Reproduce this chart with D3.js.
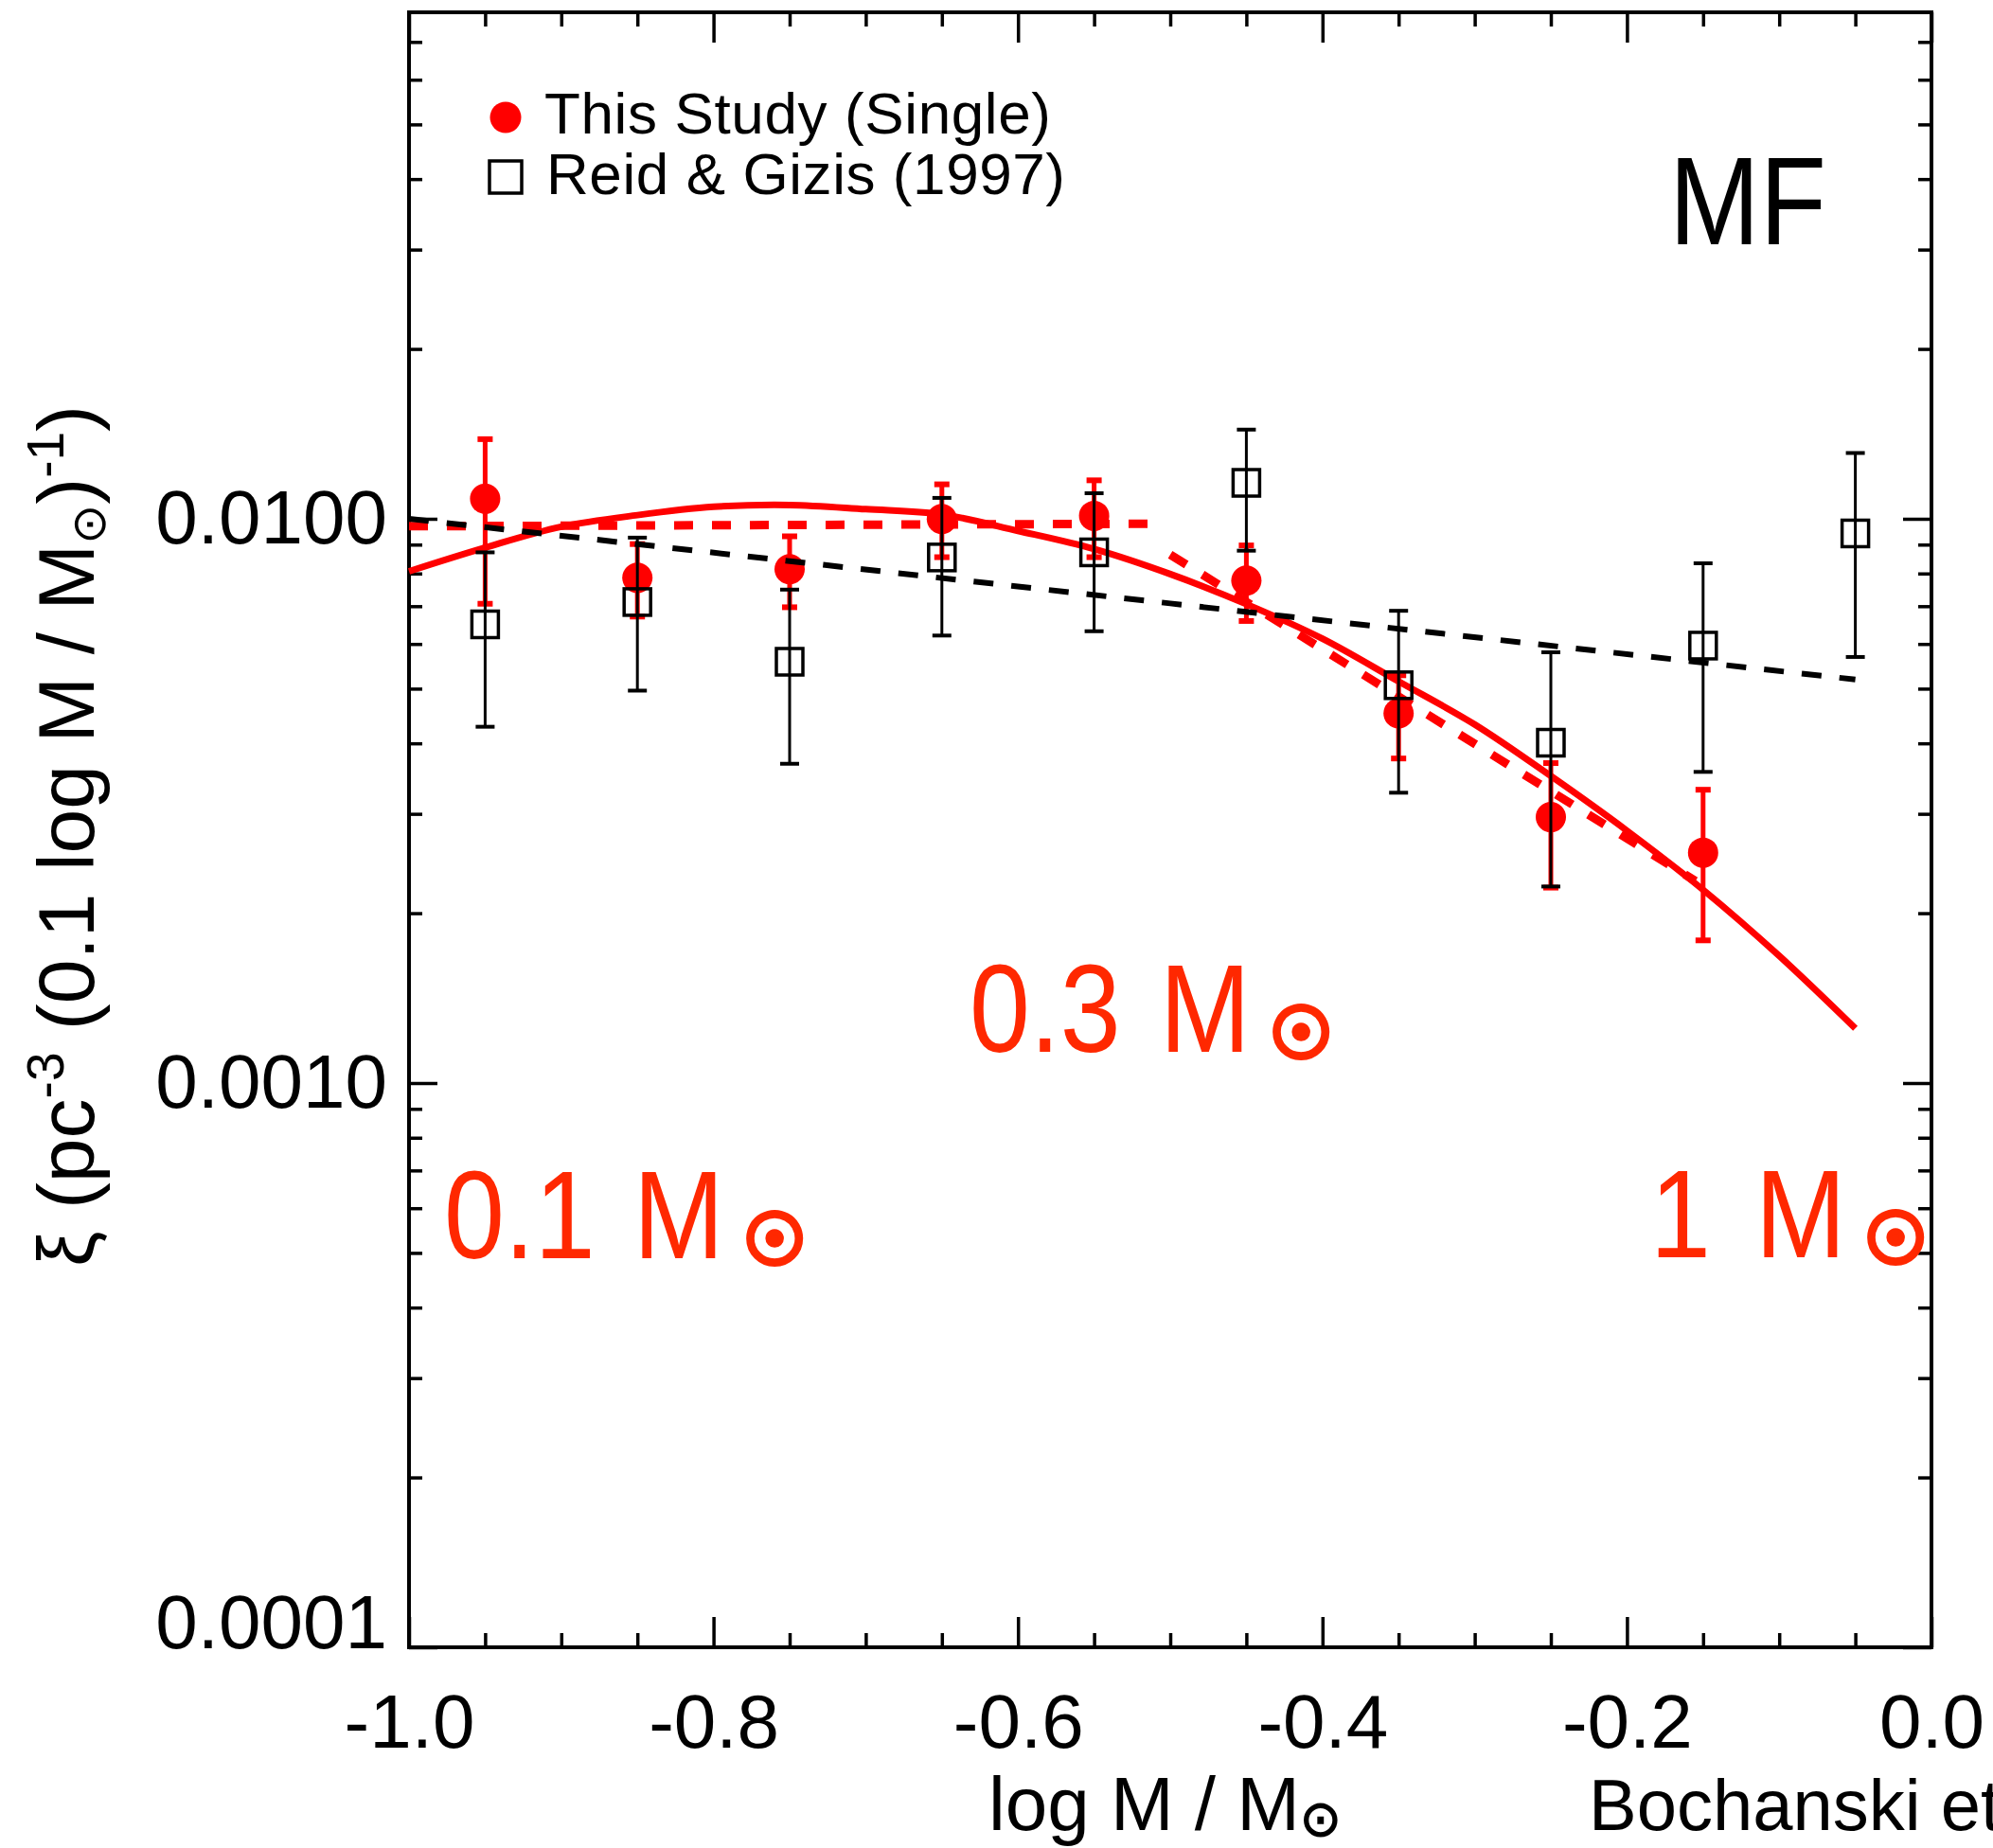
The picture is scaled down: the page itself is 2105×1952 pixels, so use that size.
<!DOCTYPE html>
<html>
<head>
<meta charset="utf-8">
<script src="https://cdn.jsdelivr.net/npm/d3@7"></script>
<style>
  body { margin: 0; background: #fff; }
  text { font-family: "Liberation Sans", Arial, Helvetica, sans-serif; }
</style>
</head>
<body>
<svg id="chart" width="2105" height="1952"></svg>
<script>
// This Study (single stars): bin centres in log M and xi with error range
const studyBins = [-0.95, -0.85, -0.75, -0.65, -0.55, -0.45, -0.35, -0.25, -0.15];
const studyVal  = [0.01085, 0.00786, 0.00814, 0.00999, 0.01012, 0.00777, 0.00452, 0.00296, 0.00256];
const studyLo   = [0.00707, 0.00671, 0.00697, 0.00855, 0.00855, 0.00659, 0.00376, 0.00222, 0.00179];
const studyHi   = [0.01384, 0.00902, 0.00931, 0.01151, 0.01170, 0.00897, 0.00528, 0.00369, 0.00331];

// Reid & Gizis (1997)
const rgBins = [-0.95, -0.85, -0.75, -0.65, -0.55, -0.45, -0.35, -0.25, -0.15, -0.05];
const rgVal  = [0.00650, 0.00712, 0.00558, 0.00854, 0.00872, 0.01158, 0.00507, 0.00401, 0.00596, 0.00942];
const rgLo   = [0.00428, 0.00496, 0.00368, 0.00621, 0.00632, 0.00878, 0.00327, 0.00223, 0.00356, 0.00569];
const rgHi   = [0.00872, 0.00926, 0.00749, 0.01089, 0.01110, 0.01439, 0.00687, 0.00580, 0.00834, 0.01308];

// log-normal fit (solid red)
const lognX = [-1.00, -0.95, -0.90, -0.85, -0.80, -0.75, -0.70, -0.65, -0.60, -0.55,
               -0.50, -0.45, -0.40, -0.35, -0.30, -0.25, -0.20, -0.15, -0.10, -0.05];
const lognY = [0.00807, 0.00889, 0.00968, 0.01015, 0.01050, 0.01058, 0.01040, 0.01018, 0.00952, 0.00884,
               0.00798, 0.00706, 0.00613, 0.00515, 0.00432, 0.00350, 0.00280, 0.00220, 0.00168, 0.00125];

// broken power law (dashed red), two pieces
const brokenX1 = [-1.00, -0.51];
const brokenY1 = [0.00970, 0.00980];
const brokenX2 = [-0.50, -0.155];
const brokenY2 = [0.00864, 0.00228];

// power law fit to Reid & Gizis (dashed black)
const rgFitX = [-1.00, -0.50, -0.05];
const rgFitY = [0.01000, 0.00708, 0.00519];

const yMajor = [1e-4, 1e-3, 1e-2];

const red = '#ff0000';
const labelRed = '#ff2800';

const svg = d3.select('#chart');
svg.append('rect').attr('width', 2105).attr('height', 1952).attr('fill', '#fff');

const x = d3.scaleLinear().domain([-1, 0]).range([432, 2040]);
const y = d3.scaleLog().domain([1e-4, 0.079]).range([1740, 13]);

const xMajor = x.ticks(5);
const xMinor = x.ticks(20).filter(v => !xMajor.some(m => Math.abs(m - v) < 1e-9));
const yMinor = y.ticks().filter(v => !yMajor.some(m => Math.abs(m - v) / m < 1e-6));

const noDomain = g => g.select('.domain').remove();

// bottom axis, labelled
svg.append('g')
  .attr('transform', 'translate(0,1740)')
  .call(d3.axisBottom(x).tickValues(xMajor).tickSize(-32).tickPadding(49)
    .tickFormat(d => d.toFixed(1)))
  .call(noDomain)
  .call(g => g.selectAll('text').attr('font-size', 80).attr('fill', '#000')
    .attr('font-family', '"Liberation Sans", Arial, sans-serif'));
svg.append('g')
  .attr('transform', 'translate(0,1740)')
  .call(d3.axisBottom(x).tickValues(xMinor).tickSize(-15).tickFormat(''))
  .call(noDomain);

// top axis
svg.append('g')
  .attr('transform', 'translate(0,13)')
  .call(d3.axisTop(x).tickValues(xMajor).tickSize(-32).tickFormat(''))
  .call(noDomain);
svg.append('g')
  .attr('transform', 'translate(0,13)')
  .call(d3.axisTop(x).tickValues(xMinor).tickSize(-15).tickFormat(''))
  .call(noDomain);

// left axis, labelled
svg.append('g')
  .attr('transform', 'translate(432,0)')
  .call(d3.axisLeft(y).tickValues(yMajor).tickSize(-30).tickPadding(23)
    .tickFormat(d3.format('.4f')))
  .call(noDomain)
  .call(g => g.selectAll('text').attr('font-size', 80).attr('fill', '#000')
    .attr('font-family', '"Liberation Sans", Arial, sans-serif'))
  .call(g => g.selectAll('.tick').filter(d => d === 1e-4).select('text').attr('dy', '0em'));
svg.append('g')
  .attr('transform', 'translate(432,0)')
  .call(d3.axisLeft(y).tickValues(yMinor).tickSize(-14).tickFormat(''))
  .call(noDomain);

// right axis
svg.append('g')
  .attr('transform', 'translate(2040,0)')
  .call(d3.axisRight(y).tickValues(yMajor).tickSize(-30).tickFormat(''))
  .call(noDomain);
svg.append('g')
  .attr('transform', 'translate(2040,0)')
  .call(d3.axisRight(y).tickValues(yMinor).tickSize(-14).tickFormat(''))
  .call(noDomain);

svg.selectAll('.tick line').attr('stroke', '#000').attr('stroke-width', 3.5);

// frame
svg.append('rect')
  .attr('x', 432).attr('y', 13).attr('width', 1608).attr('height', 1727)
  .attr('fill', 'none').attr('stroke', '#000').attr('stroke-width', 4);

const plot = svg.append('g');
const line = d3.line().x(d => x(d[0])).y(d => y(d[1]));

// This Study points with error bars
const study = studyBins.map((b, i) => ({ b, v: studyVal[i], lo: studyLo[i], hi: studyHi[i] }));
const sErr = plot.append('g').attr('stroke', red).attr('stroke-width', 5);
sErr.selectAll('.bar').data(study).join('line')
  .attr('x1', d => x(d.b)).attr('x2', d => x(d.b))
  .attr('y1', d => y(d.lo)).attr('y2', d => y(d.hi));
sErr.selectAll('.capHi').data(study).join('line').attr('class', 'capHi')
  .attr('x1', d => x(d.b) - 8).attr('x2', d => x(d.b) + 8)
  .attr('y1', d => y(d.hi)).attr('y2', d => y(d.hi)).attr('stroke-width', 6);
sErr.selectAll('.capLo').data(study).join('line').attr('class', 'capLo')
  .attr('x1', d => x(d.b) - 8).attr('x2', d => x(d.b) + 8)
  .attr('y1', d => y(d.lo)).attr('y2', d => y(d.lo)).attr('stroke-width', 6);
plot.append('g').selectAll('circle').data(study).join('circle')
  .attr('cx', d => x(d.b)).attr('cy', d => y(d.v)).attr('r', 16).attr('fill', red);

// fits
plot.append('path').datum(d3.zip(lognX, lognY))
  .attr('d', line.curve(d3.curveCatmullRom))
  .attr('fill', 'none').attr('stroke', red).attr('stroke-width', 7);
line.curve(d3.curveLinear);
[[brokenX1, brokenY1], [brokenX2, brokenY2]].forEach(([bx, by]) => {
  plot.append('path').datum(d3.zip(bx, by))
    .attr('d', line)
    .attr('fill', 'none').attr('stroke', red).attr('stroke-width', 9)
    .attr('stroke-dasharray', '20 20');
});
plot.append('path').datum(d3.zip(rgFitX, rgFitY))
  .attr('d', line)
  .attr('fill', 'none').attr('stroke', '#000').attr('stroke-width', 6)
  .attr('stroke-dasharray', '21 19');

// Reid & Gizis points with error bars
const rg = rgBins.map((b, i) => ({ b, v: rgVal[i], lo: rgLo[i], hi: rgHi[i] }));
const rErr = plot.append('g').attr('stroke', '#000').attr('stroke-width', 3);
rErr.selectAll('.bar').data(rg).join('line')
  .attr('x1', d => x(d.b)).attr('x2', d => x(d.b))
  .attr('y1', d => y(d.lo)).attr('y2', d => y(d.hi));
rErr.selectAll('.capHi').data(rg).join('line').attr('class', 'capHi')
  .attr('x1', d => x(d.b) - 10).attr('x2', d => x(d.b) + 10)
  .attr('y1', d => y(d.hi)).attr('y2', d => y(d.hi)).attr('stroke-width', 4);
rErr.selectAll('.capLo').data(rg).join('line').attr('class', 'capLo')
  .attr('x1', d => x(d.b) - 10).attr('x2', d => x(d.b) + 10)
  .attr('y1', d => y(d.lo)).attr('y2', d => y(d.lo)).attr('stroke-width', 4);
plot.append('g').selectAll('rect').data(rg).join('rect')
  .attr('x', d => x(d.b) - 14).attr('y', d => y(d.v) - 14)
  .attr('width', 28).attr('height', 28)
  .attr('fill', 'none').attr('stroke', '#000').attr('stroke-width', 3.5);

// legend
svg.append('circle').attr('cx', 534).attr('cy', 124).attr('r', 16.5).attr('fill', red);
svg.append('text').attr('x', 575).attr('y', 141).attr('font-size', 62)
  .attr('textLength', 535).text('This Study (Single)');
svg.append('rect').attr('x', 517).attr('y', 170).attr('width', 34).attr('height', 34)
  .attr('fill', 'none').attr('stroke', '#000').attr('stroke-width', 3.5);
svg.append('text').attr('x', 577).attr('y', 205).attr('font-size', 62)
  .attr('textLength', 548).text('Reid & Gizis (1997)');

// narrow, tall lettering for the panel tag and mass markers
function narrow(txt, px, base, colour) {
  return svg.append('text')
    .attr('transform', `translate(${px},${base}) scale(0.87,1)`)
    .attr('font-size', 132).attr('fill', colour).text(txt);
}
narrow('MF', 1763, 258, '#000');

const sun = '\u2299';
const sunBig = '\u2609';
function massLabel(num, xNum, xM, xSun, base) {
  narrow(num, xNum, base, labelRed);
  narrow('M', xM, base, labelRed);
  // thickened sun glyph, closer to the heavy ring and dot of the original
  svg.append('text').attr('x', xSun).attr('y', base + 6).attr('fill', labelRed)
    .attr('stroke', labelRed).attr('stroke-width', 6).attr('stroke-linejoin', 'round')
    .attr('font-family', '"DejaVu Sans", sans-serif').attr('font-size', 74)
    .text(sunBig);
}
massLabel('0.3', 1024, 1225, 1341, 1111);
massLabel('0.1', 469, 669, 785, 1329);
massLabel('1', 1743, 1854, 1969, 1328);

// axis titles
const xt = svg.append('text').attr('x', 1044).attr('y', 1933).attr('font-size', 80);
xt.append('tspan').text('log M / M');
xt.append('tspan').attr('dy', 6).attr('font-size', 52)
  .attr('stroke', '#000').attr('stroke-width', 1.5)
  .attr('font-family', '"DejaVu Sans", sans-serif').text(sun);

const yt = svg.append('text').attr('text-anchor', 'middle')
  .attr('transform', 'translate(99,883) rotate(-90)').attr('font-size', 84);
yt.append('tspan').text('\u03be (pc');
yt.append('tspan').attr('dy', -32).attr('font-size', 55).text('-3');
yt.append('tspan').attr('dy', 32).text(' (0.1 log M / M');
yt.append('tspan').attr('dy', 12).attr('font-size', 50)
  .attr('font-family', '"DejaVu Sans", sans-serif').text(sun);
yt.append('tspan').attr('dy', -12).text(')');
yt.append('tspan').attr('dy', -32).attr('font-size', 55).text('-1');
yt.append('tspan').attr('dy', 32).text(')');

// credit line, runs off the right edge as in the original
svg.append('text').attr('x', 1678).attr('y', 1933)
  .attr('font-family', 'Lato, "Open Sans", sans-serif').attr('font-size', 76)
  .text('Bochanski et al. (2010)');
</script>
</body>
</html>
